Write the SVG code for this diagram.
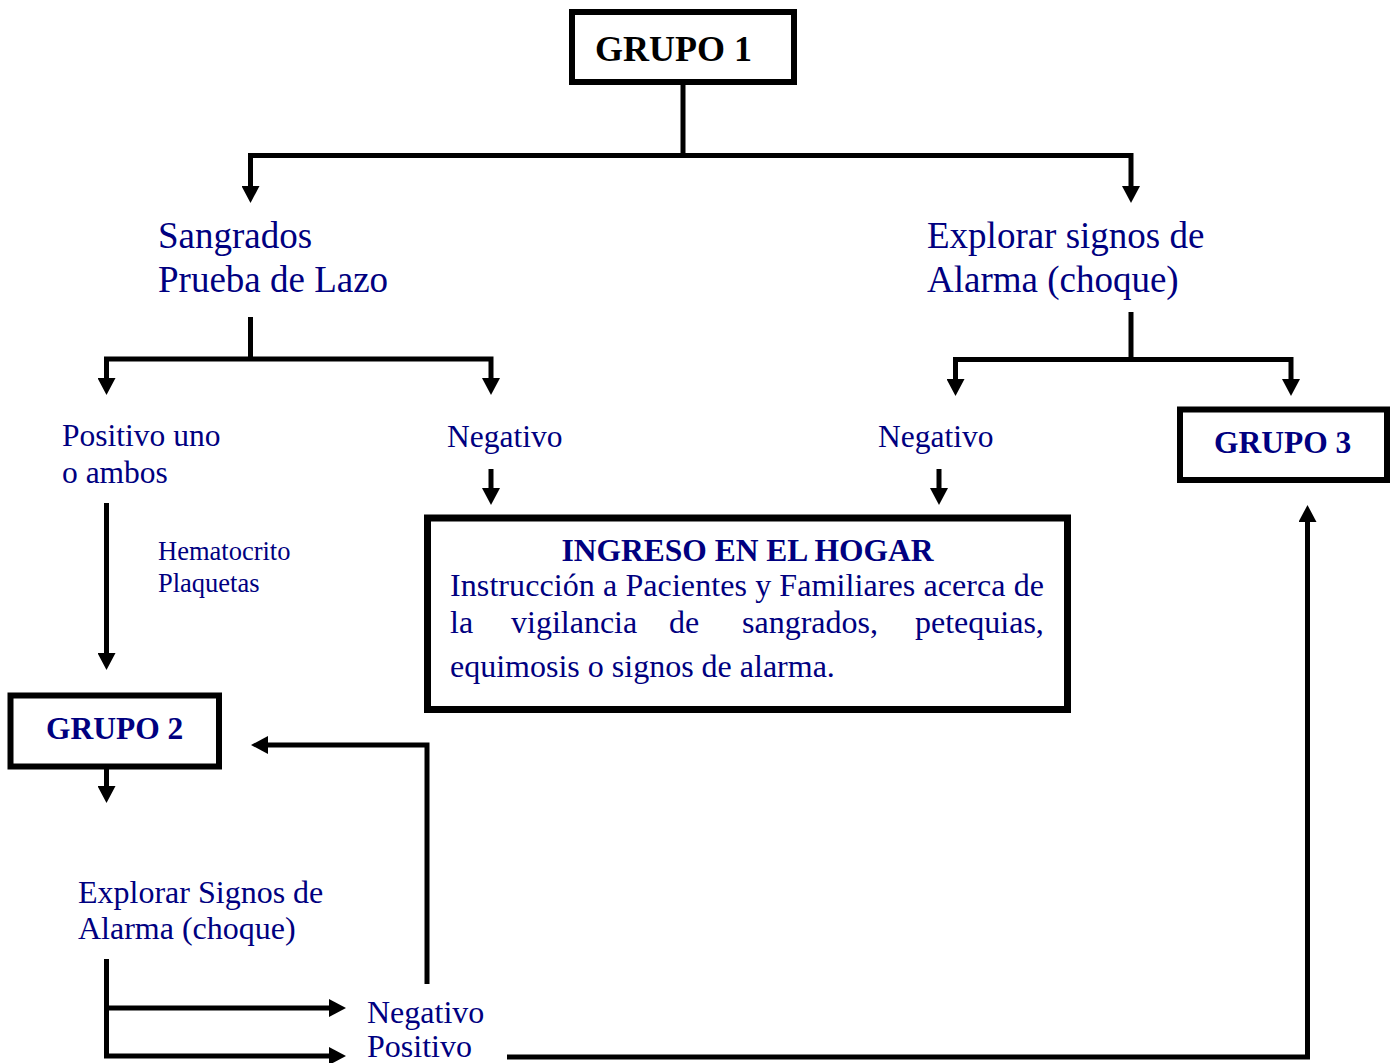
<svg xmlns="http://www.w3.org/2000/svg" width="1398" height="1063" viewBox="0 0 1398 1063">
<style>
.box{fill:#fff;stroke:#000;stroke-width:6}
.c{fill:none;stroke:#000;stroke-width:5;stroke-linejoin:miter;stroke-linecap:butt}
.t{font-family:"Liberation Serif","Times New Roman",serif;fill:#000080}
.b{font-weight:bold}
</style>
<defs>
<marker id="ah" viewBox="0 0 17 18" markerWidth="17" markerHeight="18" markerUnits="userSpaceOnUse" refX="1" refY="9" orient="auto-start-reverse">
<path d="M0 0 L17 9 L0 18 Z" fill="#000"/>
</marker>
</defs>
<rect width="1398" height="1063" fill="#fff"/>
<g id="connectors">
<path class="c" d="M683 84 V155.5"/>
<path class="c" d="M250.5 187 V155.5 H1131 V187" marker-start="url(#ah)" marker-end="url(#ah)"/>
<path class="c" d="M250.5 317 V359"/>
<path class="c" d="M106.5 379 V359 H491 V379" marker-start="url(#ah)" marker-end="url(#ah)"/>
<path class="c" d="M1131 312 V359.5"/>
<path class="c" d="M955.5 380 V359.5 H1291 V380" marker-start="url(#ah)" marker-end="url(#ah)"/>
<path class="c" d="M491 469 V489" marker-end="url(#ah)"/>
<path class="c" d="M939 469 V489" marker-end="url(#ah)"/>
<path class="c" d="M106.5 503 V654" marker-end="url(#ah)"/>
<path class="c" d="M106.5 769 V787" marker-end="url(#ah)"/>
<path class="c" d="M427 984 V745 H267" marker-end="url(#ah)"/>
<path class="c" d="M106.5 1008 V959"/>
<path class="c" d="M106.5 1008 V1056 H330" marker-end="url(#ah)"/>
<path class="c" d="M106.5 1008 H330" marker-end="url(#ah)"/>
<path class="c" d="M507 1057 H1307.5 V521" marker-end="url(#ah)"/>
</g>
<g id="grupo1">
<rect class="box" x="572" y="12" width="222" height="70"/>
<text class="t b" x="595" y="61" font-size="36" style="fill:#000">GRUPO 1</text>
</g>
<g id="sangrados">
<text class="t" x="158" y="248" font-size="37">Sangrados</text>
<text class="t" x="158" y="292" font-size="37">Prueba de Lazo</text>
</g>
<g id="explorar1">
<text class="t" x="927" y="248" font-size="37">Explorar signos de</text>
<text class="t" x="927" y="292" font-size="37">Alarma (choque)</text>
</g>
<g id="positivo">
<text class="t" x="62" y="446" font-size="31.5">Positivo uno</text>
<text class="t" x="62" y="483" font-size="31.5">o ambos</text>
</g>
<g id="negativo1">
<text class="t" x="447" y="447" font-size="31.5">Negativo</text>
</g>
<g id="negativo2">
<text class="t" x="878" y="447" font-size="31.5">Negativo</text>
</g>
<g id="grupo3">
<rect class="box" x="1180" y="409.5" width="207" height="70.5"/>
<text class="t b" x="1214" y="453" font-size="31.5">GRUPO 3</text>
</g>
<g id="hematocrito">
<text class="t" x="158" y="560" font-size="26.5">Hematocrito</text>
<text class="t" x="158" y="592" font-size="26.5">Plaquetas</text>
</g>
<g id="ingreso">
<rect class="box" x="427.5" y="518" width="640" height="191.5" style="stroke-width:7"/>
<text class="t b" x="747.5" y="561" font-size="31.5" text-anchor="middle">INGRESO EN EL HOGAR</text>
<text class="t" x="450" y="596" font-size="32" textLength="594" lengthAdjust="spacing">Instrucción a Pacientes y Familiares acerca de</text>
<text class="t" y="633" font-size="32"><tspan x="450">la</tspan><tspan x="511">vigilancia</tspan><tspan x="669">de</tspan><tspan x="742">sangrados,</tspan><tspan x="915">petequias,</tspan></text>
<text class="t" x="450" y="677" font-size="32">equimosis o signos de alarma.</text>
</g>
<g id="grupo2">
<rect class="box" x="10.5" y="695.5" width="208.5" height="71"/>
<text class="t b" x="46" y="739" font-size="31.5">GRUPO 2</text>
</g>
<g id="explorar2">
<text class="t" x="78" y="903" font-size="32">Explorar Signos de</text>
<text class="t" x="78" y="939" font-size="32">Alarma (choque)</text>
</g>
<g id="resultados">
<text class="t" x="367" y="1023" font-size="32">Negativo</text>
<text class="t" x="367" y="1057" font-size="32">Positivo</text>
</g>
</svg>
